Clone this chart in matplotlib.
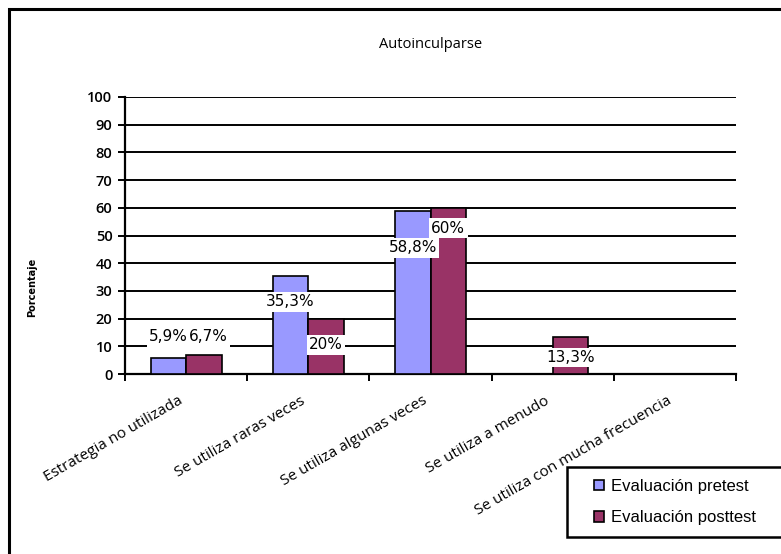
import matplotlib
matplotlib.use("Agg")
import matplotlib.pyplot as plt
from matplotlib.patches import Rectangle
from matplotlib.ticker import FixedLocator, NullFormatter
import numpy as np

title = "Autoinculparse"
categories = [
    "Estrategia no utilizada",
    "Se utiliza raras veces",
    "Se utiliza algunas veces",
    "Se utiliza a menudo",
    "Se utiliza con mucha frecuencia",
]
series_names = ["Evaluación pretest", "Evaluación posttest"]
pretest = [5.9, 35.3, 58.8, 0, 0]
posttest = [6.7, 20, 60, 13.3, 0]
pretest_labels = ["5,9%", "35,3%", "58,8%", None, None]
posttest_labels = ["6,7%", "20%", "60%", "13,3%", None]
y_label = "Porcentaje"
y_ticks = list(range(0, 101, 10))

colors = ["#9999FF", "#993366"]

W, H = 781, 554
fig = plt.figure(figsize=(W / 100, H / 100), dpi=100)
ax = fig.add_axes([125 / W, 1 - 374 / H, 611 / W, 277 / H])

x = np.arange(len(categories))
w = 0.29
b1 = ax.bar(x - w / 2, pretest, w, color=colors[0], edgecolor="black", linewidth=1.2,
            label=series_names[0], zorder=3)
b2 = ax.bar(x + w / 2, posttest, w, color=colors[1], edgecolor="black", linewidth=1.2,
            label=series_names[1], zorder=3)

ax.set_xlim(-0.5, len(categories) - 0.5)
ax.set_ylim(0, 100)
ax.set_yticks(y_ticks)
ax.yaxis.grid(True, color="black", linewidth=1.4, zorder=1)
ax.set_axisbelow(True)

for s in ["top", "right"]:
    ax.spines[s].set_visible(False)
ax.spines["left"].set_linewidth(1.6)
ax.spines["bottom"].set_linewidth(1.6)

ax.tick_params(axis="y", direction="out", length=5, width=1.4, labelsize=10.5, pad=4)
ax.xaxis.set_major_locator(FixedLocator(np.arange(-0.5, len(categories), 1.0)))
ax.xaxis.set_major_formatter(NullFormatter())
ax.tick_params(axis="x", direction="out", length=5, width=1.4)
for t in ax.get_yticklabels():
    t.set_fontfamily("Open Sans")
    t.set_fontweight("semibold")

# Category labels, rotated and anchored at their right end
for xi, name in zip(x, categories):
    ax.annotate(name, xy=(xi, 0), xycoords=("data", "axes fraction"),
                xytext=(-6, -14), textcoords="offset points",
                rotation=30, ha="right", va="top", rotation_mode="anchor",
                fontsize=11, family="Open Sans")

# Value labels on white boxes (vertical shift in data units, horizontal nudge in points)
label_shift_pre = [7.5, -9.3, -13.3, 0, 0]
label_shift_post = [6.7, -9.5, -7.3, -7.3, 0]
label_nudge_post = [3, 0, 0, 0, 0]
box = dict(boxstyle="square,pad=0.15", facecolor="white", edgecolor="none")
for xi, v, lab, d in zip(x, pretest, pretest_labels, label_shift_pre):
    if lab:
        ax.text(xi - w / 2, v + d, lab, ha="center", va="center", fontsize=11,
                family="DejaVu Sans", bbox=box, zorder=5)
for xi, v, lab, d, n in zip(x, posttest, posttest_labels, label_shift_post, label_nudge_post):
    if lab:
        ax.annotate(lab, xy=(xi + w / 2, v + d), xytext=(n, 0), textcoords="offset points",
                    ha="center", va="center", fontsize=11,
                    family="DejaVu Sans", bbox=box, zorder=5)

ax.set_title(title, fontsize=10.5, family="Open Sans", pad=35)
fig.text(32 / W, 1 - 287 / H, y_label, rotation=90, ha="center", va="center",
         fontsize=7, fontweight="bold", family="DejaVu Sans")

# Legend: frame drawn separately so it runs off the right edge
fig.patches.append(Rectangle((567 / W, 1 - 537 / H), 0.5, 70 / H,
                             transform=fig.transFigure, fill=True, facecolor="white",
                             edgecolor="black", linewidth=1.8, zorder=4))
leg = fig.legend(handles=[b1, b2], labels=series_names,
                 loc="center left", bbox_to_anchor=(594 / W, 1 - 502 / H),
                 frameon=False,
                 prop={"family": "Liberation Sans", "size": 12},
                 handlelength=0.6, handleheight=0.6, handletextpad=0.4,
                 labelspacing=1.0, borderpad=0, borderaxespad=0)
leg.set_zorder(6)

# Outer chart border
fig.patches.append(Rectangle((9 / W, -0.1), 1.2, 1 - 9 / H + 0.1,
                             transform=fig.transFigure, fill=False,
                             edgecolor="black", linewidth=2.2))

fig.savefig("out.png", dpi=100)
